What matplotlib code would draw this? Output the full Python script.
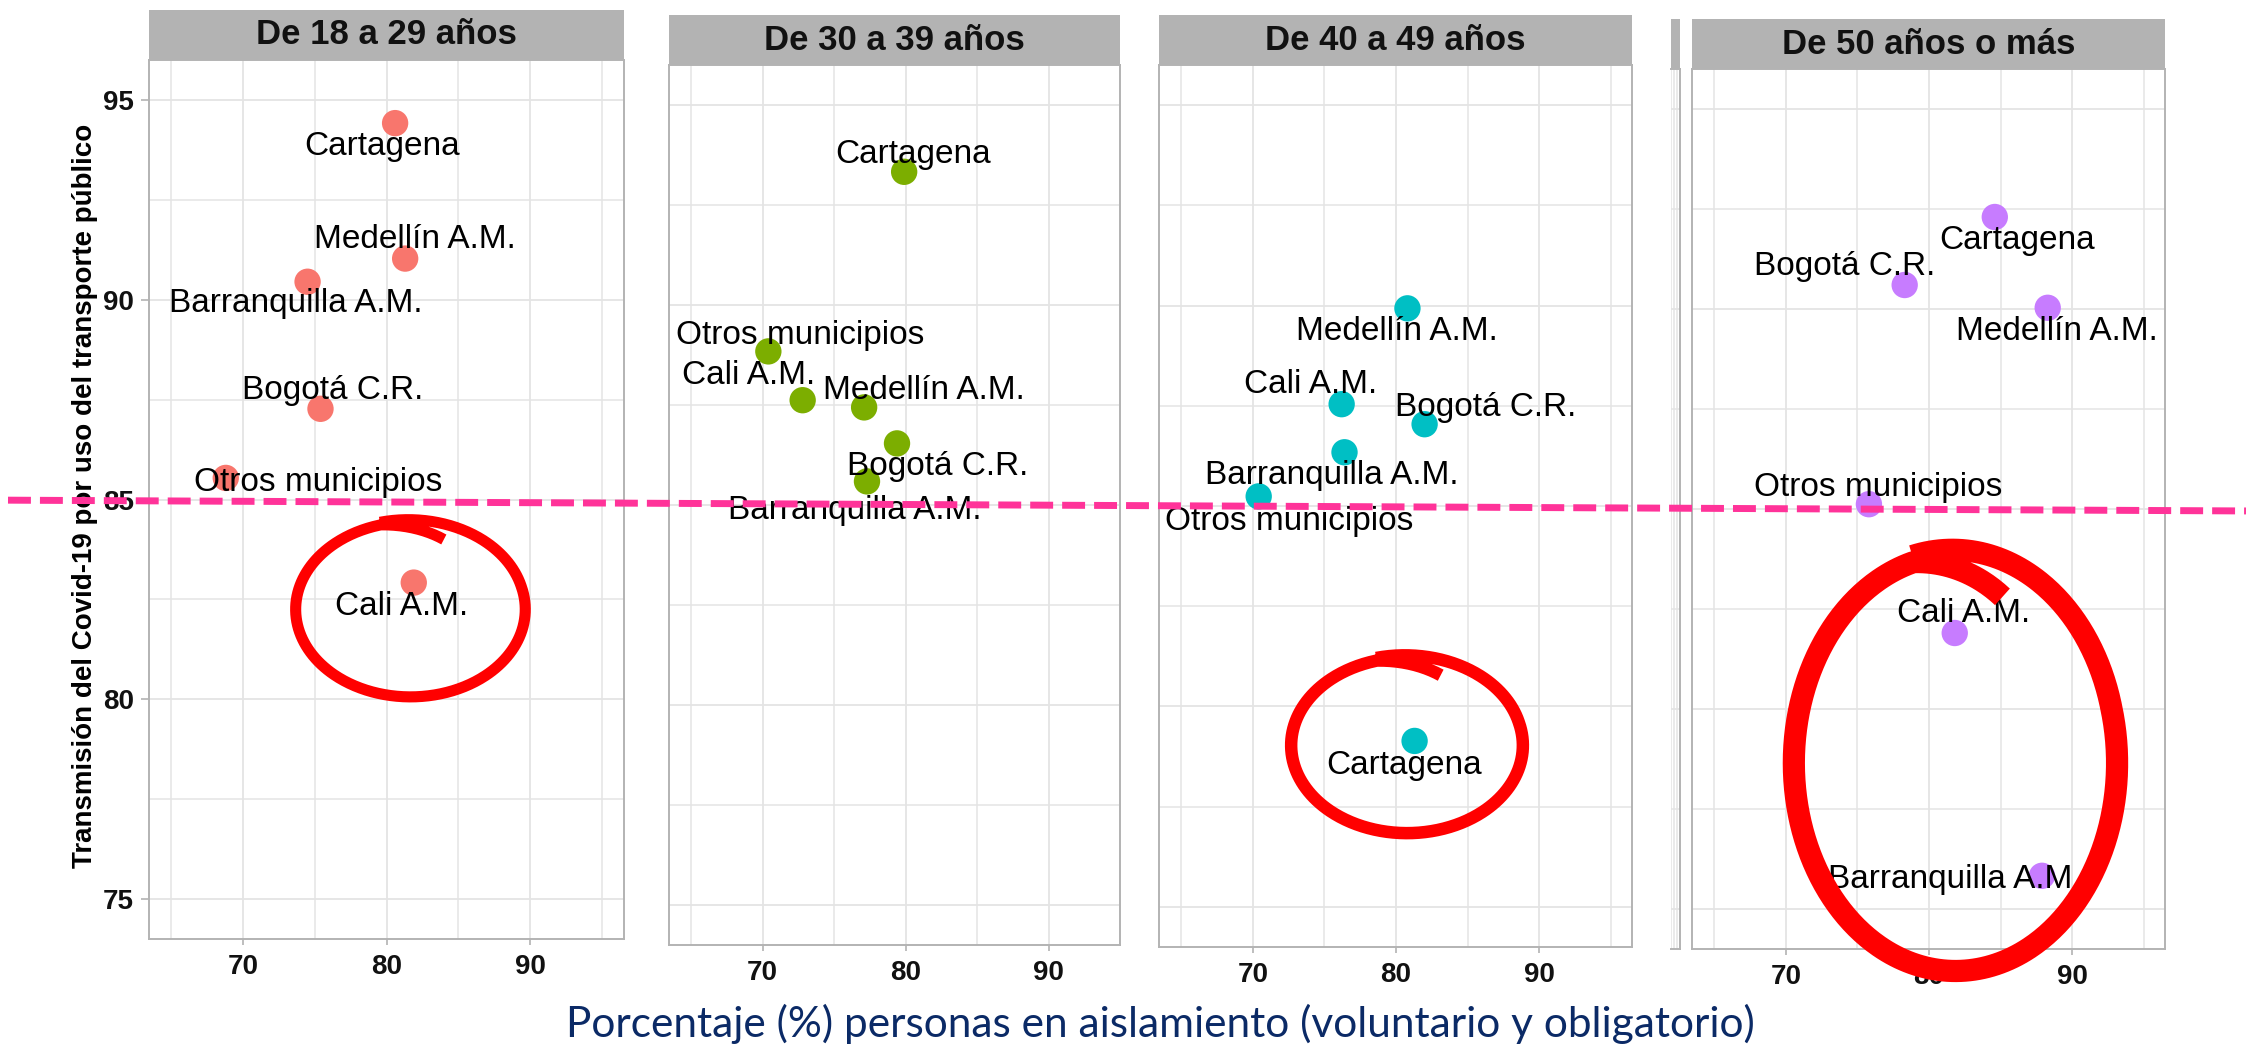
import numpy as np
import matplotlib
matplotlib.use("Agg")
from matplotlib import pyplot as plt
from matplotlib.lines import Line2D

# ---- data ----
cities = ["Barranquilla A.M.", "Bogotá C.R.", "Cali A.M.", "Cartagena", "Medellín A.M.", "Otros municipios"]
age_groups = ["De 18 a 29 años", "De 30 a 39 años", "De 40 a 49 años", "De 50 años o más"]

# % personas en aislamiento (x) per age group, in the order of `cities`
aislamiento_18_29 = [74.5, 75.4, 81.9, 80.6, 81.3, 68.8]
aislamiento_30_39 = [77.3, 79.4, 72.8, 79.9, 77.1, 70.4]
aislamiento_40_49 = [76.4, 82.0, 76.2, 81.3, 80.8, 70.4]
aislamiento_50_mas = [87.9, 78.3, 81.8, 84.6, 88.3, 75.8]

# transmision por uso del transporte publico (y)
transmision_18_29 = [90.45, 87.27, 82.92, 94.42, 91.03, 85.54]
transmision_30_39 = [85.59, 86.54, 87.62, 93.33, 87.44, 88.84]
transmision_40_49 = [86.34, 87.04, 87.54, 79.14, 89.93, 85.24]
transmision_50_mas = [75.83, 90.60, 81.90, 92.30, 90.03, 85.12]

x_ticks = [70, 80, 90]
y_ticks = [75, 80, 85, 90, 95]
umbral = 85  # dashed reference line

# ---- layout / style ----
W, H = 2246, 1047
colors = ["#F8766D", "#7CAE00", "#00BFC4", "#C77CFF"]
panel_px = [(149, 60, 624, 939), (669, 65, 1120, 945), (1159, 65, 1632, 947), (1692, 69, 2165, 949)]
xlims = [(63.45, 96.55), (63.45, 94.8), (63.43, 96.5), (63.43, 96.5)]
ylim = (74, 96)
strip_h = 50

# label offsets in pixels (dx, dy downwards), like ggrepel placed them
label_off = [
    [(-12, 22), (12, -18), (-12, 24), (-13, 23), (10, -19), (92, 5)],
    [(-12, 29), (41, 23), (-54, -25), (9, -17), (60, -17), (32, -16)],
    [(-13, 23), (61, -17), (-31, -20), (-11, 25), (-11, 23), (30, 25)],
    [(-87, 4), (-60, -18), (9, -19), (22, 23), (9, 24), (9, -17)],
]

# hand drawn highlight rings: panel, centre (data), semi axes (data), width
rings = [(0, 81.67, 82.25, 8.0, 2.19, 8), (2, 80.77, 79.03, 8.1, 2.19, 9), (3, 81.85, 78.65, 11.3, 5.2, 16)]

FONT = "Liberation Sans"
GRID = "#E4E4E4"
BORDER = "#B3B3B3"


def px_rect(x0, y0, x1, y1):
    return [x0 / W, 1 - y1 / H, (x1 - x0) / W, (y1 - y0) / H]


def style_panel(ax, xlim):
    ax.set_xlim(*xlim)
    ax.set_ylim(*ylim)
    ax.set_xticks([65, 75, 85, 95], minor=True)
    ax.set_yticks([77.5, 82.5, 87.5, 92.5], minor=True)
    ax.grid(which="major", color=GRID, lw=1.3)
    ax.grid(which="minor", color=GRID, lw=1.1)
    ax.set_axisbelow(True)
    for s in ax.spines.values():
        s.set_color(BORDER)
        s.set_linewidth(1.4)
    ax.tick_params(which="minor", length=0)


def hand_ring(ax, cx, cy, a, b, lw):
    start = np.deg2rad(105)
    t = np.linspace(start, start - np.deg2rad(395), 500)
    turned = start - t
    # starts a bit outside, closes the loop, then curls inward at the top
    r = 1.0 + 0.03 * np.clip(1 - turned / np.deg2rad(90), 0, 1)
    r -= 0.15 * np.clip((turned - 2 * np.pi) / np.deg2rad(35), 0, 1)
    ax.plot(cx + a * r * np.cos(t), cy + b * r * np.sin(t), color="#FF0000", lw=lw,
            solid_capstyle="butt", clip_on=False, zorder=8)


xs = [aislamiento_18_29, aislamiento_30_39, aislamiento_40_49, aislamiento_50_mas]
ys = [transmision_18_29, transmision_30_39, transmision_40_49, transmision_50_mas]

fig = plt.figure(figsize=(W / 100, H / 100), dpi=100)
fig.patch.set_facecolor("white")

axes = []
for i, group in enumerate(age_groups):
    x0, y0, x1, y1 = panel_px[i]
    ax = fig.add_axes(px_rect(x0, y0, x1, y1))
    style_panel(ax, xlims[i])
    ax.set_xticks(x_ticks, labels=[str(v) for v in x_ticks], fontsize=20,
                  fontweight="bold", family=FONT)
    ax.tick_params(axis="x", length=4, color=BORDER, width=1.2, pad=7, labelcolor="#111111")
    if i == 0:
        ax.set_yticks(y_ticks, labels=[str(v) for v in y_ticks], fontsize=20,
                      fontweight="bold", family=FONT)
        ax.tick_params(axis="y", length=6, color=BORDER, width=1.2, pad=5, labelcolor="#111111")
    else:
        ax.set_yticks(y_ticks)
        ax.tick_params(axis="y", left=False, labelleft=False)

    ax.scatter(xs[i], ys[i], s=360, color=colors[i], edgecolors="none", zorder=3)
    for c, name in enumerate(cities):
        dx, dy = label_off[i][c]
        ax.annotate(name, (xs[i][c], ys[i][c]), xytext=(dx, -dy), textcoords="offset pixels",
                    ha="center", va="center", fontsize=24, family=FONT, color="black", zorder=4)

    sax = fig.add_axes(px_rect(x0, y0 - strip_h, x1, y0))
    sax.set_facecolor("#B3B3B3")
    sax.set_xticks([])
    sax.set_yticks([])
    for s in sax.spines.values():
        s.set_visible(False)
    sax.text(0.5, 0.5, group, ha="center", va="center", fontsize=25, fontweight="bold",
             family=FONT, color="#111111", transform=sax.transAxes)
    axes.append(ax)

# cut-off edge of another screenshot between panels 3 and 4
sl = fig.add_axes(px_rect(1671, 69, 1680, 949))
style_panel(sl, (95.92, 96.55))
sl.set_xticks([])
sl.set_yticks(y_ticks)
sl.tick_params(left=False, labelleft=False)
sl.spines["left"].set_visible(False)
sls = fig.add_axes(px_rect(1671, 19, 1680, 69))
sls.set_facecolor("#B3B3B3")
sls.set_xticks([])
sls.set_yticks([])
for s in sls.spines.values():
    s.set_visible(False)

for p, cx, cy, a, b, lw in rings:
    hand_ring(axes[p], cx, cy, a, b, lw)

# dashed threshold line across the whole image
fig.canvas.draw()
xl_, yl = axes[0].transData.transform((80, umbral))
xr_, yr = axes[3].transData.transform((80, umbral))
slope = (yr - yl) / (xr_ - xl_)
x_start, x_end = 8, W
ya = yl + slope * (x_start - xl_) - 3
yb = yl + slope * (x_end - xl_)
fig.add_artist(Line2D([x_start / W, x_end / W], [ya / H, yb / H], transform=fig.transFigure,
                      color="#FF3399", lw=5, linestyle=(0, (3.3, 1.3)), zorder=10))

fig.text(85 / W, 1 - 496 / H, "Transmisión del Covid-19 por uso del transporte público",
         rotation=90, ha="center", va="center", fontsize=20, fontweight="bold", family=FONT)
fig.text(1160 / W, 1 - 1037 / H,
         "Porcentaje (%) personas en aislamiento (voluntario y obligatorio)",
         ha="center", va="baseline", fontsize=30.5, family="Lato", color="#0B2A66")

fig.savefig("out.png", dpi=100)
